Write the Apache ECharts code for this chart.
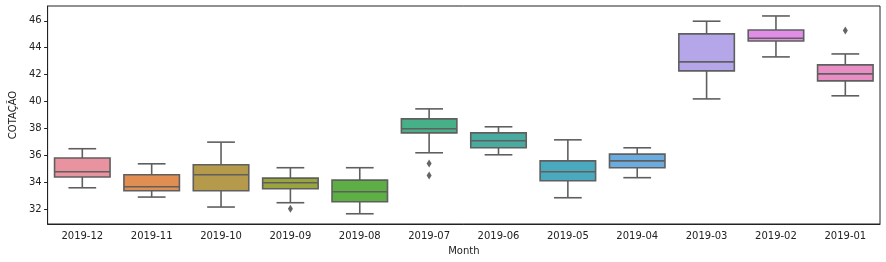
<!DOCTYPE html>
<html>
<head>
<meta charset="utf-8">
<script src="https://cdn.jsdelivr.net/npm/echarts@6/dist/echarts.min.js"></script>
<style>html,body{margin:0;padding:0;background:#fff}#c{width:886px;height:262px}</style>
</head>
<body>
<div id="c"></div>
<script>
const categories = ['2019-12','2019-11','2019-10','2019-09','2019-08','2019-07','2019-06','2019-05','2019-04','2019-03','2019-02','2019-01'];
const whiskerLow  = [33.60, 32.91, 32.17, 32.49, 31.67, 36.20, 36.05, 32.86, 34.35, 40.20, 43.32, 40.43];
const q1          = [34.40, 33.38, 33.38, 33.53, 32.56, 37.68, 36.57, 34.12, 35.09, 42.28, 44.50, 41.54];
const medians     = [34.79, 33.68, 34.57, 33.97, 33.31, 37.98, 37.09, 34.79, 35.60, 42.95, 44.70, 42.06];
const q3          = [35.81, 34.57, 35.31, 34.32, 34.17, 38.72, 37.68, 35.60, 36.10, 45.03, 45.32, 42.73];
const whiskerHigh = [36.50, 35.38, 36.99, 35.09, 35.09, 39.46, 38.13, 37.16, 36.57, 45.97, 46.36, 43.54];
const outlierMonths = ['2019-09', '2019-07', '2019-07', '2019-01'];
const outlierValues = [32.05, 35.41, 34.52, 45.28];
const yTicks = [32, 34, 36, 38, 40, 42, 44, 46];
const colors = ['#e8939f','#e08e52','#b49a4a','#9aa43d','#5cae45','#48b088','#49aba0','#4ba9bd','#6aabe0','#b5a6ea','#e08ee8','#e88ec4'];

const boxData = categories.map((c, i) => [i, whiskerLow[i], q1[i], medians[i], q3[i], whiskerHigh[i]]);
const outlierData = outlierMonths.map((m, i) => [m, outlierValues[i]]);
const lineColor = '#5f5f5f';
const font = 'DejaVu Sans';

const chart = echarts.init(document.getElementById('c'));
chart.setOption({
  animation: false,
  grid: { left: 43, right: 6, top: 6, bottom: 38, show: true, borderColor: '#222', borderWidth: 1 },
  xAxis: {
    type: 'category', data: categories, boundaryGap: true,
    name: 'Month', nameLocation: 'middle', nameGap: 22,
    nameTextStyle: { fontFamily: font, fontSize: 10, color: '#222' },
    axisLine: { lineStyle: { color: '#222', width: 1 } },
    axisTick: { alignWithLabel: true, length: 3.5, lineStyle: { color: '#222' } },
    axisLabel: { fontFamily: font, fontSize: 10, color: '#222', margin: 7, interval: 0 },
    splitLine: { show: false }
  },
  yAxis: {
    type: 'value', min: 30.91, max: 47.1,
    name: 'COTAÇÃO', nameLocation: 'middle', nameGap: 23, nameRotate: 90,
    nameTextStyle: { fontFamily: font, fontSize: 10, color: '#222' },
    axisLine: { show: true, lineStyle: { color: '#222', width: 1 } },
    axisTick: { show: true, length: 3.5, customValues: yTicks, lineStyle: { color: '#222' } },
    axisLabel: { fontFamily: font, fontSize: 10, color: '#222', margin: 6, customValues: yTicks },
    splitLine: { show: false }
  },
  series: [
    {
      type: 'custom',
      data: boxData,
      encode: { x: 0, y: [1, 2, 3, 4, 5] },
      renderItem: function (params, api) {
        const i = api.value(0);
        const band = api.size([1, 0])[0];
        const bw = band * 0.8, cw = band * 0.4;
        const pLo = api.coord([i, api.value(1)]);
        const pQ1 = api.coord([i, api.value(2)]);
        const pMed = api.coord([i, api.value(3)]);
        const pQ3 = api.coord([i, api.value(4)]);
        const pHi = api.coord([i, api.value(5)]);
        const x = pQ1[0];
        const ls = { stroke: lineColor, lineWidth: 1.6 };
        return {
          type: 'group',
          children: [
            { type: 'line', shape: { x1: x, y1: pLo[1], x2: x, y2: pQ1[1] }, style: ls },
            { type: 'line', shape: { x1: x, y1: pQ3[1], x2: x, y2: pHi[1] }, style: ls },
            { type: 'line', shape: { x1: x - cw / 2, y1: pLo[1], x2: x + cw / 2, y2: pLo[1] }, style: ls },
            { type: 'line', shape: { x1: x - cw / 2, y1: pHi[1], x2: x + cw / 2, y2: pHi[1] }, style: ls },
            { type: 'rect', shape: { x: x - bw / 2, y: pQ3[1], width: bw, height: pQ1[1] - pQ3[1] },
              style: { fill: colors[i], stroke: lineColor, lineWidth: 1.6 } },
            { type: 'line', shape: { x1: x - bw / 2, y1: pMed[1], x2: x + bw / 2, y2: pMed[1] }, style: ls }
          ]
        };
      }
    },
    {
      type: 'scatter',
      data: outlierData,
      symbol: 'diamond',
      symbolSize: [5, 8],
      itemStyle: { color: '#3d3d3d' }
    }
  ]
});
</script>
</body>
</html>
